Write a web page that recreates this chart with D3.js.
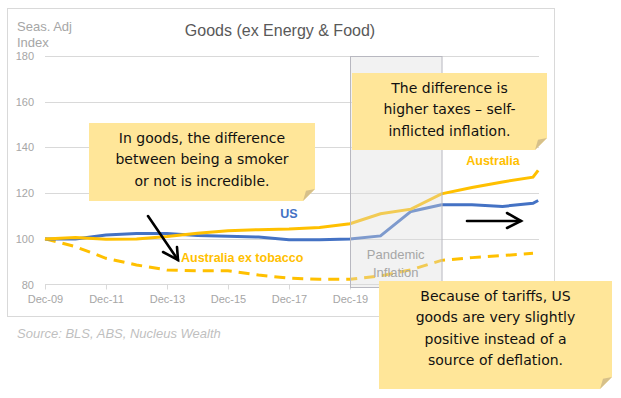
<!DOCTYPE html>
<html>
<head>
<meta charset="utf-8">
<script src="https://cdn.jsdelivr.net/npm/d3@7"></script>
<style>
  body { margin: 0; background: #fff; }
  svg { display: block; font-family: "Liberation Sans", Arial, sans-serif; }
</style>
</head>
<body>
<svg id="svg" width="621" height="398"></svg>
<script>
// data (index, Dec-09 = 100)
var dates = ["2009-12","2010-12","2011-12","2012-12","2013-12","2014-12","2015-12","2016-12","2017-12",
             "2018-12","2019-12","2020-12","2021-12","2022-12","2023-12","2024-12","2025-12","2026-02"];
var australia = [100,100.6,99.8,100,101,102.5,103.6,104,104.3,105,106.6,111,113,119.7,122.5,124.9,127,130];
var us        = [100,99.9,101.7,102.3,102.3,101.5,101.2,100.8,99.6,99.6,99.9,101.3,112,114.9,114.9,114.2,115.6,116.8];
var exTobacco = [100,96.6,91.5,88.6,86.4,86,86.1,84.2,82.8,82.3,82.3,83.8,86.5,90.6,91.8,92.7,93.7,null];
var tickDates = ["2009-12","2011-12","2013-12","2015-12","2017-12","2019-12","2021-12","2023-12","2025-12"];
var tickLabels = ["Dec-09","Dec-11","Dec-13","Dec-15","Dec-17","Dec-19","","",""]; // the last ones sit under a note
var yTicks = [80,100,120,140,160,180];
var pandemic = ["2019-12","2022-12"];

var parse = d3.timeParse("%Y-%m");
var svg = d3.select("#svg");

// chart frame
svg.append("rect").attr("x",7.5).attr("y",8.5).attr("width",547).attr("height",308)
  .attr("fill","#fff").attr("stroke","#d9d9d9");

var scaleX = d3.scaleTime().domain([parse("2009-12"), parse("2025-12")]).range([45,533]);
var scaleY = d3.scaleLinear().domain([80,180]).range([284.6,56]);

// gridlines
svg.append("g").selectAll("line").data(yTicks.slice(1)).enter().append("line")
  .attr("x1",45).attr("x2",539)
  .attr("y1",function(d){ return Math.round(scaleY(d))+0.5; })
  .attr("y2",function(d){ return Math.round(scaleY(d))+0.5; })
  .attr("stroke","#d9d9d9");

// y labels
svg.append("g").selectAll("text").data(yTicks).enter().append("text")
  .attr("x",34).attr("y",function(d){ return scaleY(d)+4; })
  .attr("text-anchor","end").attr("fill","#a6a6a6").style("font-size","11px")
  .text(function(d){ return d; });

// x axis
var axisX = d3.axisBottom(scaleX)
  .tickValues(tickDates.map(parse))
  .tickSize(5).tickPadding(6)
  .tickFormat(function(d,i){ return tickLabels[i]; });
var gAxisX = svg.append("g").attr("transform","translate(0,284.5)").call(axisX);
gAxisX.select(".domain").attr("stroke","#d9d9d9").attr("d","M45,0H539");
gAxisX.selectAll(".tick line").attr("stroke","#d9d9d9");
gAxisX.selectAll(".tick text").attr("fill","#a6a6a6").style("font-size","11px")
  .style("font-family","Liberation Sans, Arial, sans-serif");

// lines
function series(vals){
  return vals.map(function(v,i){ return {d: parse(dates[i]), v: v}; });
}
var line = d3.line()
  .defined(function(p){ return p.v != null; })
  .x(function(p){ return scaleX(p.d); })
  .y(function(p){ return scaleY(p.v); });

svg.append("path").datum(series(exTobacco)).attr("d",line)
  .attr("fill","none").attr("stroke","#ffc000").attr("stroke-width",3)
  .attr("stroke-dasharray","11,7");
svg.append("path").datum(series(us)).attr("d",line)
  .attr("fill","none").attr("stroke","#4472c4").attr("stroke-width",3);
svg.append("path").datum(series(australia)).attr("d",line)
  .attr("fill","none").attr("stroke","#ffc000").attr("stroke-width",3);

// pandemic shading (on top of the lines, semi transparent)
var px0 = scaleX(parse(pandemic[0])), px1 = scaleX(parse(pandemic[1]));
svg.append("rect").attr("x",Math.round(px0)+0.5).attr("y",56.5)
  .attr("width",px1-px0).attr("height",231)
  .attr("fill","#dcdcdc").attr("fill-opacity",0.38)
  .attr("stroke","#b8b8c0").attr("stroke-width",1);
svg.append("text").attr("x",(px0+px1)/2).attr("y",259).attr("text-anchor","middle")
  .attr("fill","#a6a6a6").style("font-size","13px").text("Pandemic");
svg.append("text").attr("x",(px0+px1)/2).attr("y",277).attr("text-anchor","middle")
  .attr("fill","#a6a6a6").style("font-size","13px").text("Inflation");

// series labels
svg.append("text").attr("x",289).attr("y",218).attr("text-anchor","middle")
  .attr("fill","#4472c4").style("font-size","12.5px").style("font-weight","bold").text("US");
svg.append("text").attr("x",493).attr("y",165).attr("text-anchor","middle")
  .attr("fill","#ffc000").style("font-size","12.5px").style("font-weight","bold").text("Australia");
svg.append("text").attr("x",181).attr("y",262)
  .attr("fill","#ffc000").style("font-size","12.5px").style("font-weight","bold").text("Australia ex tobacco");

// titles
svg.append("text").attr("x",280).attr("y",36).attr("text-anchor","middle")
  .attr("fill","#595959").style("font-size","16px").text("Goods (ex Energy & Food)");
svg.append("text").attr("x",17).attr("y",31).attr("fill","#a6a6a6").style("font-size","13px").text("Seas. Adj");
svg.append("text").attr("x",17).attr("y",47).attr("fill","#a6a6a6").style("font-size","13px").text("Index");
svg.append("text").attr("x",17).attr("y",338).attr("fill","#bfbfbf").style("font-size","13px")
  .style("font-style","italic").text("Source: BLS, ABS, Nucleus Wealth");

// arrows
function arrow(x1,y1,x2,y2,h1,h2){
  var g = svg.append("g").attr("stroke","#000").attr("stroke-width",2.6)
    .attr("stroke-linecap","round").attr("fill","none");
  g.append("path").attr("d","M"+x1+","+y1+"L"+x2+","+y2);
  g.append("path").attr("d","M"+h1[0]+","+h1[1]+"L"+x2+","+y2+"L"+h2[0]+","+h2[1]);
}
arrow(148,216,178,260,[163,252],[177,247]);
arrow(467,221,521,221,[507,213],[507,228]);

// sticky notes
function note(x,y,w,h,lines,ly){
  var f = 12;
  var g = svg.append("g");
  g.append("path").attr("fill","#ffe699")
    .attr("d","M"+x+","+y+"H"+(x+w)+"V"+(y+h-f)+"L"+(x+w-f)+","+(y+h)+"H"+x+"Z");
  g.append("path").attr("fill","#d6c08a")
    .attr("d","M"+(x+w)+","+(y+h-f)+"L"+(x+w-f)+","+(y+h)+"L"+(x+w-f*0.75)+","+(y+h-f*0.85)+"Z");
  g.selectAll("text").data(lines).enter().append("text")
    .attr("x",x+w/2).attr("y",function(d,i){ return ly+i*21.3; })
    .attr("text-anchor","middle").attr("fill","#111")
    .style("font-family","'DejaVu Sans', sans-serif").style("font-size","14px")
    .text(function(d){ return d; });
}
note(89,123,226,78,["In goods, the difference","between being a smoker","or not is incredible."],143);
note(352,73,195,77,["The difference is","higher taxes \u2013 self-","inflicted inflation."],93);
note(379,281,233,108,["Because of tariffs, US","goods are very slightly","positive instead of a","source of deflation."],301);
</script>
</body>
</html>
